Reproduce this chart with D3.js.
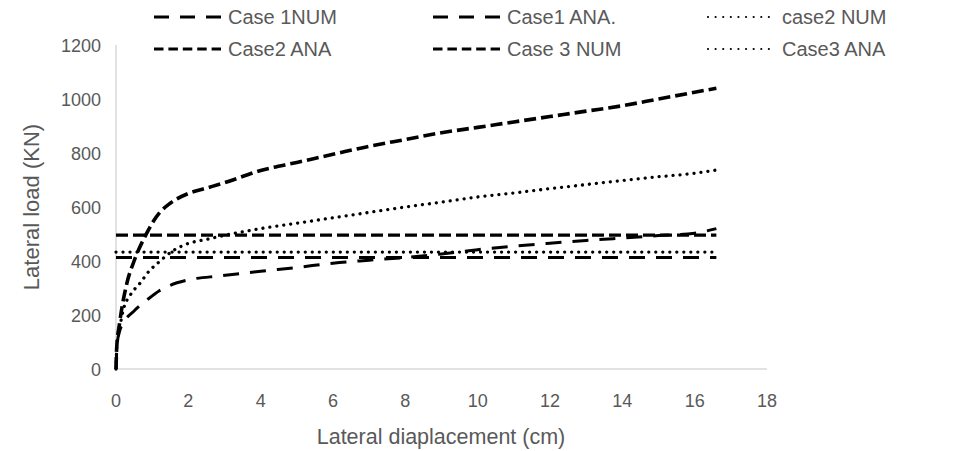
<!DOCTYPE html>
<html>
<head>
<meta charset="utf-8">
<script src="https://cdn.jsdelivr.net/npm/d3@7"></script>
<style>
  body { margin: 0; background: #fff; }
  #corpo { width: 957px; height: 451px; }
  text { font-family: "Liberation Sans", Arial, sans-serif; fill: #595959; }
</style>
</head>
<body>
<div id="corpo"></div>
<script>
// lateral displacement (cm) / lateral load (KN)
var case1Num = [[0,0],[0.03,90],[0.1,140],[0.2,170],[0.5,215],[0.85,255],[1.2,290],[1.5,310],[2,330],[2.9,345],[4,362],[5,376],[6,392],[7,403],[8,413],[9,426],[10,442],[11,455],[12,466],[13,476],[14,485],[15,494],[16,503],[16.6,520]];
var case3Num = [[0,0],[0.02,80],[0.1,170],[0.3,317],[0.5,400],[0.85,503],[1,540],[1.2,578],[1.5,614],[2,650],[2.5,670],[3,690],[4,735],[5,765],[6,795],[7,825],[8,850],[9,875],[10,895],[11,915],[12,935],[13,955],[14,975],[15,1000],[16,1025],[16.6,1040]];
var case2Num = [[0,0],[0.02,80],[0.1,150],[0.2,218],[0.4,275],[0.66,317],[0.9,360],[1.22,400],[1.6,440],[2,465],[2.5,480],[3,495],[4,520],[5,540],[6,560],[7,580],[8,600],[9,618],[10,637],[11,652],[12,668],[13,683],[14,698],[15,712],[16,725],[16.6,737]];
var case1Ana = [[0,413],[16.6,413]];
var case2Ana = [[0,496],[16.6,496]];
var case3Ana = [[0,433],[16.6,433]];

var xTicks = [0,2,4,6,8,10,12,14,16,18];
var yTicks = [0,200,400,600,800,1000,1200];

var longDash = "16,11", dash = "12,5", dot = "0.01,7";

var series = [
  {name: "Case 1NUM", data: case1Num, dash: longDash, w: 3},
  {name: "Case1 ANA.", data: case1Ana, dash: longDash, w: 3},
  {name: "case2 NUM", data: case2Num, dash: dot, w: 3.3},
  {name: "Case2 ANA", data: case2Ana, dash: dash, w: 3.3},
  {name: "Case 3 NUM", data: case3Num, dash: dash, w: 3.6},
  {name: "Case3 ANA", data: case3Ana, dash: dot, w: 3.3}
];

var width = 957, height = 451;
var x = d3.scaleLinear().domain([0,18]).range([116,767]);
var y = d3.scaleLinear().domain([0,1200]).range([369,45]);

var svg = d3.select("#corpo").append("svg")
    .attr("width", width)
    .attr("height", height);

// axes
svg.append("line").attr("x1", x(0)).attr("x2", x(18)).attr("y1", y(0)).attr("y2", y(0))
    .style("stroke", "#d9d9d9").style("stroke-width", 1.5);
svg.append("line").attr("x1", x(0)).attr("x2", x(0)).attr("y1", y(0)).attr("y2", y(1200))
    .style("stroke", "#d9d9d9").style("stroke-width", 1.5);

svg.selectAll(".xt").data(xTicks).enter().append("text")
    .attr("x", function(d){ return x(d); })
    .attr("y", 407)
    .attr("text-anchor", "middle")
    .style("font-size", "18px")
    .text(function(d){ return d; });

svg.selectAll(".yt").data(yTicks).enter().append("text")
    .attr("x", 101)
    .attr("y", function(d){ return y(d) + 6.5; })
    .attr("text-anchor", "end")
    .style("font-size", "18px")
    .text(function(d){ return d; });

svg.append("text")
    .attr("x", 441).attr("y", 444)
    .attr("text-anchor", "middle")
    .style("font-size", "21.5px")
    .text("Lateral diaplacement (cm)");

svg.append("text")
    .attr("transform", "translate(39,207) rotate(-90)")
    .attr("text-anchor", "middle")
    .style("font-size", "22px")
    .text("Lateral load (KN)");

var line = d3.line()
    .x(function(d){ return x(d[0]); })
    .y(function(d){ return y(d[1]); })
    .curve(d3.curveMonotoneX);

svg.selectAll(".serie").data(series).enter().append("path")
    .attr("class", "serie")
    .attr("d", function(d){ return line(d.data); })
    .style("fill", "none")
    .style("stroke", "#000")
    .style("stroke-width", function(d){ return d.w; })
    .style("stroke-dasharray", function(d){ return d.dash; })
    .style("stroke-linecap", function(d){ return d.dash == dot ? "round" : "butt"; });

// legend, 3 columns x 2 rows
var legX = [154, 433, 708], legY = [17, 49];
var leg = svg.selectAll(".leg").data(series).enter().append("g")
    .attr("class", "leg")
    .attr("transform", function(d, i){ return "translate(" + legX[i % 3] + "," + legY[Math.floor(i / 3)] + ")"; });

leg.append("line")
    .attr("x1", 0).attr("x2", 67)
    .style("stroke", "#000")
    .style("stroke-width", function(d){ return d.dash == dot ? 2.2 : 3; })
    .style("stroke-dasharray", function(d){ return d.dash == longDash ? "15,11" : (d.dash == dash ? "9.5,4.9" : "0.01,7.6"); })
    .style("stroke-linecap", function(d){ return d.dash == dot ? "round" : "butt"; });

leg.append("text")
    .attr("x", 74).attr("y", 7)
    .style("font-size", "20px")
    .text(function(d){ return d.name; });
</script>
</body>
</html>
